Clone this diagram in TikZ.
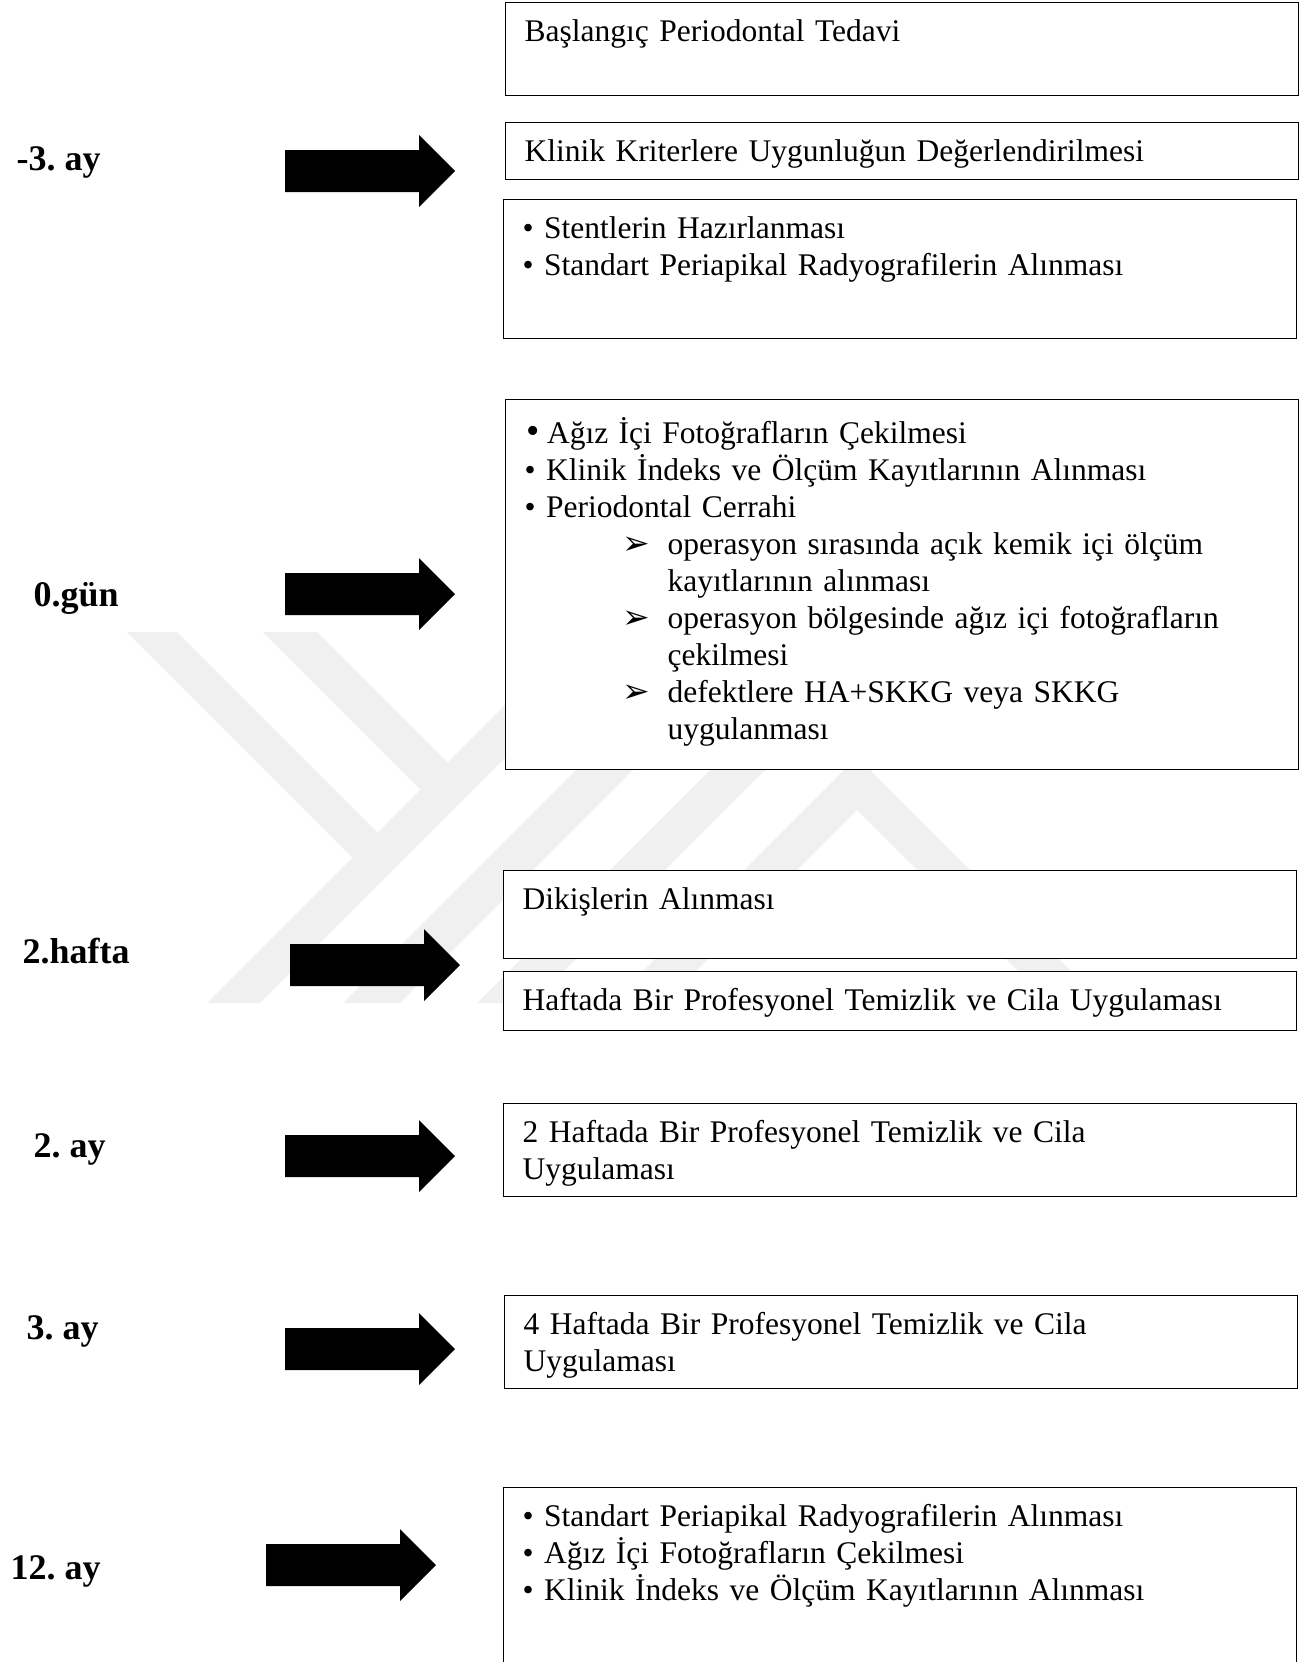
\documentclass[tikz,border=0pt]{standalone}
\usepackage{fontspec}
\setmainfont{Liberation Serif}
\newfontfamily\symfont{DejaVu Sans}
\frenchspacing
\newcommand\bodyfont{\fontsize{31.5}{37}\selectfont}
\newcommand\labelfont{\fontsize{36}{40}\selectfont\bfseries}
\newcommand\opitem{\hspace*{98pt}\makebox[45pt][l]{\symfont\fontsize{33}{37}\selectfont ➢}}
\newcommand\opcont{\hspace*{143pt}}
\begin{document}
\begin{tikzpicture}[x=1pt,y=-1pt,
    stage/.style={draw,line width=1.4pt,fill=white,anchor=north west,
      inner xsep=19pt,inner ysep=0pt,text width=755pt,text height=39pt,
      align=left,font=\bodyfont},
    when/.style={anchor=base west,font=\labelfont},
    wm/.style={fill=black!6}]
  \useasboundingbox (0,0) rectangle (1300,1662);

  % faint watermark behind the boxes
  \fill[wm] (127,632) -- (177,632) -- (377.5,832.5) -- (352.5,857.5) -- cycle;
  \fill[wm] (263,632) -- (317,632) -- (447.5,762.5) -- (420.5,789.5) -- cycle;
  \fill[wm] (207,1003) -- (260,1003) -- (573,690) -- (520,690) -- cycle;
  \fill[wm] (343,1003) -- (400,1003) -- (713,690) -- (656,690) -- cycle;
  \fill[wm] (477,1003) -- (532,1003) -- (845,690) -- (790,690) -- cycle;
  \fill[wm] (611,1003) -- (857,757) -- (1103,1003) -- (1050,1003)
    -- (857,810) -- (664,1003) -- cycle;

  % time labels
  \node[when] (m3) at (13,170) {-3. ay};
  \node[when] (d0) at (30,606) {0.gün};
  \node[when] (w2) at (19,963) {2.hafta};
  \node[when] (mo2) at (30,1157) {2. ay};
  \node[when] (mo3) at (23,1339) {3. ay};
  \node[when] (mo12) at (7,1579) {12. ay};

  % block arrows
  \foreach \ax/\ay in {285/171,285/594,290/965,285/1156,285/1349,266/1565}
    \fill (\ax,\ay-21) -- ++(134,0) -- ++(0,-15) -- ++(36,36)
      -- ++(-36,36) -- ++(0,-15) -- ++(-134,0) -- cycle;

  % boxes
  \node[stage,text depth=54pt] (start) at (505,2) {Başlangıç Periodontal Tedavi};
  \node[stage,text depth=18pt] (criteria) at (505,122)
    {Klinik Kriterlere Uygunluğun Değerlendirilmesi};
  \node[stage,text depth=100pt] (prep) at (503,199)
    {• Stentlerin Hazırlanması\\
     • Standart Periapikal Radyografilerin Alınması};
  \node[stage,text height=44pt,text depth=326pt] (surgery) at (505,399)
    {\hspace*{2pt}{\fontsize{38}{37}\selectfont •}\hspace*{7pt}Ağız İçi Fotoğrafların Çekilmesi\\
     • Klinik İndeks ve Ölçüm Kayıtlarının Alınması\\
     • Periodontal Cerrahi\\
     \opitem operasyon sırasında açık kemik içi ölçüm\\
     \opcont kayıtlarının alınması\\
     \opitem operasyon bölgesinde ağız içi fotoğrafların\\
     \opcont çekilmesi\\
     \opitem defektlere HA+SKKG veya SKKG\\
     \opcont uygulanması};
  \node[stage,text depth=49pt] (sutures) at (503,870) {Dikişlerin Alınması};
  \node[stage,text depth=20pt] (weekly) at (503,971)
    {Haftada Bir Profesyonel Temizlik ve Cila Uygulaması};
  \node[stage,text depth=54pt] (biweekly) at (503,1103)
    {2 Haftada Bir Profesyonel Temizlik ve Cila\\Uygulaması};
  \node[stage,text depth=54pt] (monthly) at (504,1295)
    {4 Haftada Bir Profesyonel Temizlik ve Cila\\Uygulaması};
  \node[stage,text depth=161pt] (final) at (503,1487)
    {• Standart Periapikal Radyografilerin Alınması\\
     • Ağız İçi Fotoğrafların Çekilmesi\\
     • Klinik İndeks ve Ölçüm Kayıtlarının Alınması};
\end{tikzpicture}
\end{document}
